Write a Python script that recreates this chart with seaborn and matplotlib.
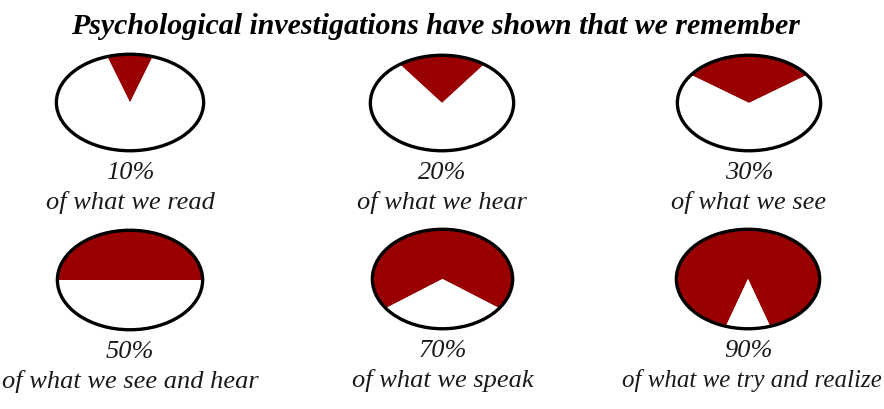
import matplotlib
matplotlib.use("Agg")
import matplotlib.pyplot as plt
import seaborn as sns
from matplotlib.patches import Circle

percents = [10, 20, 30, 50, 70, 90]
pct_labels = ["10%", "20%", "30%", "50%", "70%", "90%"]
captions = ["of what we read", "of what we hear", "of what we see",
            "of what we see and hear", "of what we speak", "of what we try and realize"]
title = "Psychological investigations have shown that we remember"

sns.set_theme(style="white")
plt.rcParams['font.family'] = ['Liberation Serif', 'DejaVu Serif']

W, H = 884, 410
fig = plt.figure(figsize=(W / 100, H / 100), dpi=100)
fig.patch.set_facecolor("white")

red = "#990000"
# pixel boxes (left, top, right, bottom) for ellipses
boxes = [(56, 55, 204, 152), (370, 56, 514, 152), (677, 56, 821, 152),
         (57, 231, 203, 331), (372, 230, 513, 330), (676, 230, 820, 330)]

renderer = fig.canvas.get_renderer()
for i, (p, pl, cap) in enumerate(zip(percents, pct_labels, captions)):
    l, t, r, b = boxes[i]
    ax = fig.add_axes([l / W, 1 - b / H, (r - l) / W, (b - t) / H])
    ax.pie([p, 100 - p], colors=[red, "white"], startangle=90 - 1.8 * p,
           counterclock=True, radius=1.0, wedgeprops=dict(linewidth=0))
    ax.add_patch(Circle((0, 0), 0.995, fill=False, edgecolor="black", lw=2.4,
                        clip_on=False, zorder=5))
    ax.set_aspect("auto")
    ax.set_xlim(-1, 1)
    ax.set_ylim(-1, 1)
    ax.axis("off")
    cx = (l + r) / 2 / W
    fig.text(cx, 1 - (b + 21) / H, pl, ha="center", va="center",
             fontsize=19, style="italic", color="#1a1a1a")
    txt = fig.text(cx, 1 - (b + 51) / H, cap, ha="center", va="center",
                   fontsize=19, style="italic", color="#1a1a1a")
    bb = txt.get_window_extent(renderer)
    if bb.x1 > W - 20:
        # keep long captions inside the right edge of the figure
        txt.set_fontsize(18)
        txt.set_ha("right")
        txt.set_x((W - 2) / W)

fig.text(435 / W, 1 - 27 / H, title, ha="center", va="center",
         fontsize=21.5, style="italic", weight="bold", color="black")

fig.savefig("out.png", dpi=100, facecolor="white")
